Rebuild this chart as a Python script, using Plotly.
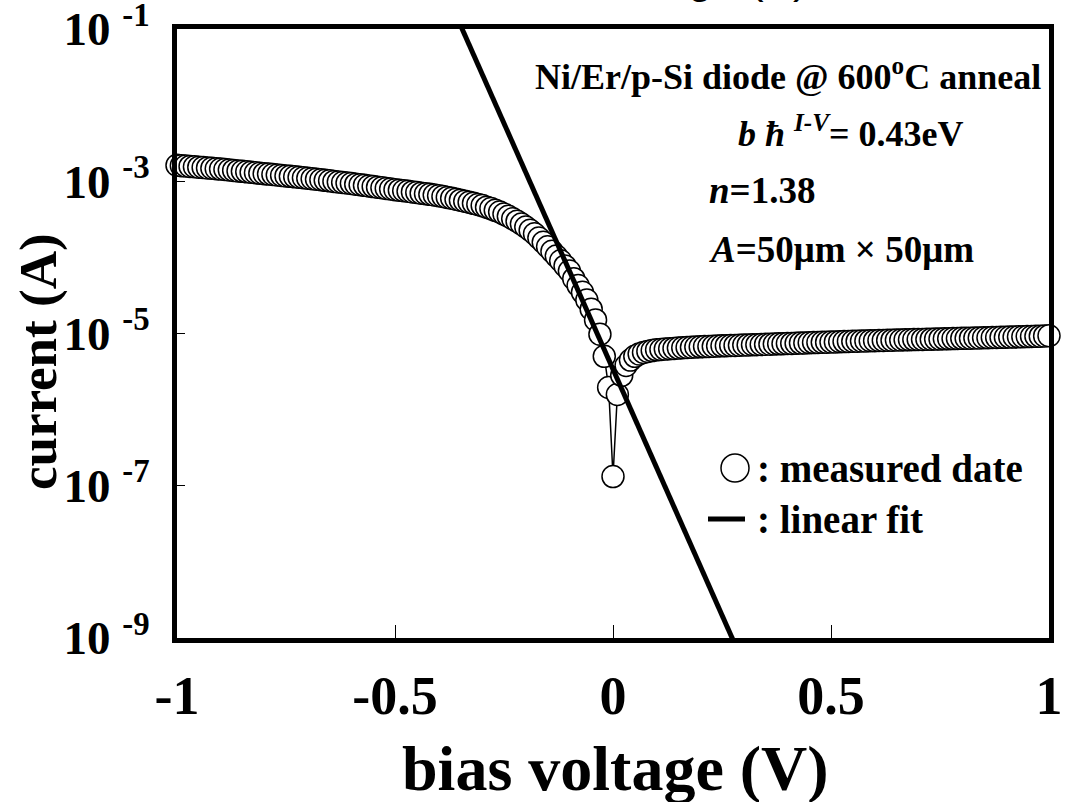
import plotly.graph_objects as go

# measured I-V data (bias voltage in V, current in A)
bias_v = [
    -1.00, -0.99, -0.98, -0.97, -0.96, -0.95, -0.94, -0.93, -0.92, -0.91,
    -0.90, -0.89, -0.88, -0.87, -0.86, -0.85, -0.84, -0.83, -0.82, -0.81,
    -0.80, -0.79, -0.78, -0.77, -0.76, -0.75, -0.74, -0.73, -0.72, -0.71,
    -0.70, -0.69, -0.68, -0.67, -0.66, -0.65, -0.64, -0.63, -0.62, -0.61,
    -0.60, -0.59, -0.58, -0.57, -0.56, -0.55, -0.54, -0.53, -0.52, -0.51,
    -0.50, -0.49, -0.48, -0.47, -0.46, -0.45, -0.44, -0.43, -0.42, -0.41,
    -0.40, -0.39, -0.38, -0.37, -0.36, -0.35, -0.34, -0.33, -0.32, -0.31,
    -0.30, -0.29, -0.28, -0.27, -0.26, -0.25, -0.24, -0.23, -0.22, -0.21,
    -0.20, -0.19, -0.18, -0.17, -0.16, -0.15, -0.14, -0.13, -0.12, -0.11,
    -0.10, -0.09, -0.08, -0.07, -0.06, -0.05, -0.04, -0.03, -0.02, -0.01,
    0.00, 0.01, 0.02, 0.03, 0.04, 0.05, 0.06, 0.07, 0.08, 0.09,
    0.10, 0.11, 0.12, 0.13, 0.14, 0.15, 0.16, 0.17, 0.18, 0.19,
    0.20, 0.21, 0.22, 0.23, 0.24, 0.25, 0.26, 0.27, 0.28, 0.29,
    0.30, 0.31, 0.32, 0.33, 0.34, 0.35, 0.36, 0.37, 0.38, 0.39,
    0.40, 0.41, 0.42, 0.43, 0.44, 0.45, 0.46, 0.47, 0.48, 0.49,
    0.50, 0.51, 0.52, 0.53, 0.54, 0.55, 0.56, 0.57, 0.58, 0.59,
    0.60, 0.61, 0.62, 0.63, 0.64, 0.65, 0.66, 0.67, 0.68, 0.69,
    0.70, 0.71, 0.72, 0.73, 0.74, 0.75, 0.76, 0.77, 0.78, 0.79,
    0.80, 0.81, 0.82, 0.83, 0.84, 0.85, 0.86, 0.87, 0.88, 0.89,
    0.90, 0.91, 0.92, 0.93, 0.94, 0.95, 0.96, 0.97, 0.98, 0.99,
    1.00]
current_a = [
    1.622e-3, 1.603e-3, 1.585e-3, 1.567e-3, 1.549e-3, 1.531e-3, 1.514e-3, 1.496e-3, 1.479e-3, 1.462e-3,
    1.445e-3, 1.426e-3, 1.406e-3, 1.387e-3, 1.368e-3, 1.349e-3, 1.330e-3, 1.312e-3, 1.294e-3, 1.276e-3,
    1.259e-3, 1.242e-3, 1.225e-3, 1.208e-3, 1.191e-3, 1.175e-3, 1.159e-3, 1.143e-3, 1.127e-3, 1.112e-3,
    1.096e-3, 1.079e-3, 1.062e-3, 1.045e-3, 1.028e-3, 1.012e-3, 9.95e-4, 9.79e-4, 9.64e-4, 9.48e-4,
    9.33e-4, 9.16e-4, 8.99e-4, 8.83e-4, 8.67e-4, 8.51e-4, 8.36e-4, 8.20e-4, 8.05e-4, 7.91e-4,
    7.76e-4, 7.64e-4, 7.50e-4, 7.38e-4, 7.24e-4, 7.11e-4, 6.98e-4, 6.86e-4, 6.73e-4, 6.59e-4,
    6.46e-4, 6.31e-4, 6.14e-4, 5.97e-4, 5.81e-4, 5.64e-4, 5.47e-4, 5.30e-4, 5.13e-4, 4.95e-4,
    4.79e-4, 4.57e-4, 4.37e-4, 4.15e-4, 3.94e-4, 3.70e-4, 3.47e-4, 3.22e-4, 2.99e-4, 2.74e-4,
    2.51e-4, 2.27e-4, 2.04e-4, 1.80e-4, 1.58e-4, 1.38e-4, 1.20e-4, 1.04e-4, 9.02e-5, 7.73e-5,
    6.61e-5, 5.25e-5, 4.27e-5, 3.47e-5, 2.75e-5, 2.09e-5, 1.51e-5, 9.77e-6, 5.01e-6, 1.95e-6,
    1.32e-7, 1.58e-6, 2.82e-6, 3.80e-6, 4.47e-6, 5.01e-6, 5.37e-6, 5.62e-6, 5.82e-6, 5.96e-6,
    6.10e-6, 6.17e-6, 6.24e-6, 6.31e-6, 6.37e-6, 6.43e-6, 6.49e-6, 6.55e-6, 6.59e-6, 6.64e-6,
    6.68e-6, 6.73e-6, 6.76e-6, 6.81e-6, 6.84e-6, 6.89e-6, 6.92e-6, 6.95e-6, 6.98e-6, 7.01e-6,
    7.05e-6, 7.08e-6, 7.11e-6, 7.14e-6, 7.18e-6, 7.21e-6, 7.24e-6, 7.28e-6, 7.31e-6, 7.35e-6,
    7.38e-6, 7.41e-6, 7.45e-6, 7.48e-6, 7.52e-6, 7.55e-6, 7.59e-6, 7.62e-6, 7.66e-6, 7.69e-6,
    7.73e-6, 7.76e-6, 7.80e-6, 7.83e-6, 7.87e-6, 7.91e-6, 7.94e-6, 7.98e-6, 8.00e-6, 8.04e-6,
    8.05e-6, 8.09e-6, 8.11e-6, 8.15e-6, 8.17e-6, 8.20e-6, 8.22e-6, 8.26e-6, 8.28e-6, 8.32e-6,
    8.34e-6, 8.37e-6, 8.39e-6, 8.43e-6, 8.45e-6, 8.49e-6, 8.51e-6, 8.55e-6, 8.57e-6, 8.61e-6,
    8.63e-6, 8.67e-6, 8.69e-6, 8.73e-6, 8.75e-6, 8.79e-6, 8.81e-6, 8.85e-6, 8.87e-6, 8.91e-6,
    8.93e-6, 8.97e-6, 8.99e-6, 9.04e-6, 9.06e-6, 9.10e-6, 9.12e-6, 9.18e-6, 9.23e-6, 9.29e-6,
    9.33e-6]

# linear fit (straight line on the log scale), end points
fit_v = [-0.40, 0.30]
fit_i = [4.99e-1, 4.51e-10]

x_tickvals = [-1, -0.5, 0, 0.5, 1]
x_ticktext = ["-1", "-0.5", "0", "0.5", "1"]
y_tickvals = [1e-9, 1e-7, 1e-5, 1e-3, 1e-1]
y_ticktext = ["10 <sup>-9</sup>", "10 <sup>-7</sup>", "10 <sup>-5</sup>",
              "10 <sup>-3</sup>", "10 <sup>-1</sup>"]

W, H = 1065, 802
ML, MR, MT, MB = 177, 16, 29, 164
PW, PH = W - ML - MR, H - MT - MB


def xp(px):
    return (px - ML) / PW


def yp(py):
    return (H - MB - py) / PH


SERIF = "Liberation Serif, Times New Roman, serif"

fig = go.Figure()
fig.add_trace(go.Scatter(
    x=bias_v, y=current_a, mode="lines+markers",
    line=dict(color="black", width=1.5),
    marker=dict(symbol="circle", size=22, color="white",
                line=dict(color="black", width=1.5)),
    cliponaxis=False, showlegend=False, name="measured date"))
fig.add_trace(go.Scatter(
    x=fit_v, y=fit_i, mode="lines",
    line=dict(color="black", width=5),
    showlegend=False, name="linear fit"))

annotations = [
    dict(text="Ni/Er/p-Si diode @ 600<sup>o</sup>C anneal", x=xp(1043), y=yp(74),
         xanchor="right", yanchor="middle", font=dict(size=36)),
    dict(text="<i>b ħ </i><sup><i>I-V</i></sup>= 0.43eV", x=xp(736), y=yp(131),
         xanchor="left", yanchor="middle", font=dict(size=36)),
    dict(text="<i>n</i>=1.38", x=xp(707), y=yp(190),
         xanchor="left", yanchor="middle", font=dict(size=37)),
    dict(text="<i>A</i>=50μm × 50μm", x=xp(707), y=yp(249),
         xanchor="left", yanchor="middle", font=dict(size=37)),
    dict(text=": measured date", x=xp(755), y=yp(468),
         xanchor="left", yanchor="middle", font=dict(size=39)),
    dict(text=": linear fit", x=xp(755), y=yp(519),
         xanchor="left", yanchor="middle", font=dict(size=39)),
    dict(text="bias voltage (V)", x=xp(615), y=yp(768),
         xanchor="center", yanchor="middle", font=dict(size=64)),
    dict(text="current (A)", x=xp(38), y=yp(362), textangle=-90,
         xanchor="center", yanchor="middle", font=dict(size=53)),
    dict(text="bias voltage (V)", x=xp(655), y=yp(4),
         xanchor="center", yanchor="bottom",
         font=dict(size=44, family="Liberation Sans, Arial, sans-serif",
                   weight="normal")),
]
for a in annotations:
    a.update(xref="paper", yref="paper", showarrow=False)
    a["font"].setdefault("family", SERIF)
    a["font"].setdefault("weight", "bold")
    a["font"]["color"] = "black"

shapes = [
    dict(type="circle", xref="paper", yref="paper",
         x0=xp(721), x1=xp(749), y0=yp(454), y1=yp(482),
         fillcolor="white", line=dict(color="black", width=1.5)),
    dict(type="line", xref="paper", yref="paper",
         x0=xp(708), x1=xp(745), y0=yp(519), y1=yp(519),
         line=dict(color="black", width=5)),
]

fig.update_layout(
    width=W, height=H,
    margin=dict(l=ML, r=MR, t=MT, b=MB, pad=0),
    paper_bgcolor="white", plot_bgcolor="white",
    font=dict(family=SERIF, color="black", size=48, weight="bold"),
    showlegend=False,
    annotations=annotations,
    shapes=shapes,
    xaxis=dict(
        range=[-1, 1], tickvals=x_tickvals, ticktext=x_ticktext,
        ticks="inside", ticklen=13, tickwidth=1, tickcolor="black",
        showline=True, linewidth=5, linecolor="black", mirror=True,
        showgrid=False, zeroline=False, ticklabelstandoff=6,
        automargin=False, ticklabeloverflow="allow",
        tickfont=dict(size=54, family=SERIF, weight="bold"),
    ),
    yaxis=dict(
        type="log", range=[-9, -1], tickvals=y_tickvals, ticktext=y_ticktext,
        ticks="inside", ticklen=8, tickwidth=1, tickcolor="black",
        showline=True, linewidth=5, linecolor="black", mirror=True,
        showgrid=False, zeroline=False, ticklabelstandoff=13,
        automargin=False, ticklabeloverflow="allow",
        tickfont=dict(size=47, family=SERIF, weight="bold"),
    ),
)

fig.write_html("out.html")
